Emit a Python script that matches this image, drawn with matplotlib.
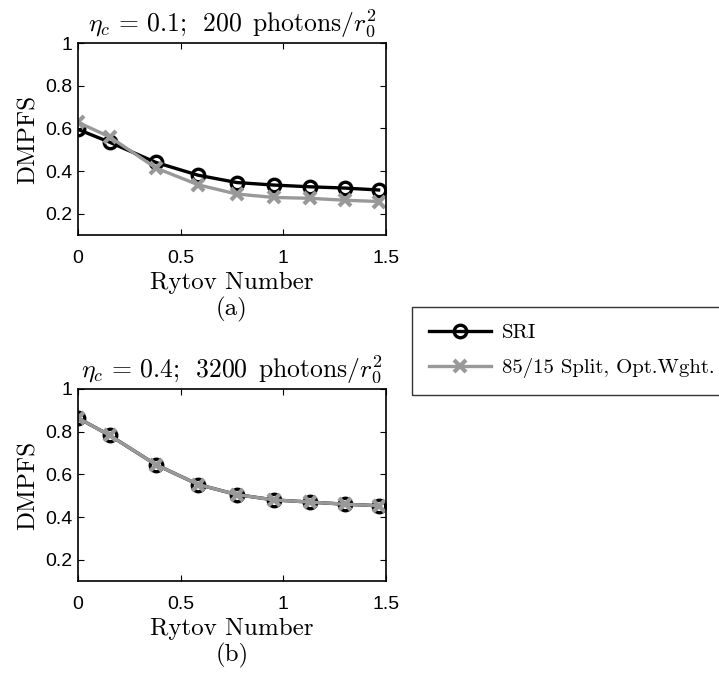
import matplotlib
matplotlib.use("Agg")
import matplotlib.pyplot as plt

plt.rcParams['mathtext.fontset'] = 'cm'
plt.rcParams['font.family'] = ['Liberation Sans', 'DejaVu Sans']

rytov = [0, 0.154, 0.380, 0.586, 0.773, 0.955, 1.129, 1.299, 1.464]

sri_a = [0.595, 0.535, 0.440, 0.380, 0.346, 0.334, 0.326, 0.320, 0.311]
split_a = [0.628, 0.560, 0.414, 0.335, 0.292, 0.276, 0.272, 0.263, 0.257]

sri_b = [0.864, 0.783, 0.645, 0.552, 0.505, 0.480, 0.470, 0.460, 0.453]
split_b = [0.864, 0.783, 0.645, 0.552, 0.505, 0.480, 0.470, 0.460, 0.453]

titles = [r'$\eta_c\, =\, 0.1;\ \,200\ \,\mathrm{photons}/r_0^2$',
          r'$\eta_c\, =\, 0.4;\ \,3200\ \,\mathrm{photons}/r_0^2$']
panel_tags = ['(a)', '(b)']

gray = '#999999'
cm = 'cmr10'
fig = plt.figure(figsize=(7.19, 6.77), dpi=100)

W, H = 719, 677
boxes = [(78, 43, 386, 235), (78, 389, 386, 581)]
series = [(sri_a, split_a), (sri_b, split_b)]

for (x0, y0, x1, y1), (s, p), t, tag in zip(boxes, series, titles, panel_tags):
    ax = fig.add_axes([x0 / W, 1 - y1 / H, (x1 - x0) / W, (y1 - y0) / H])
    l1, = ax.plot(rytov, s, color='k', lw=2.4, marker='o', ms=9,
                  mfc='none', mew=2.4, label='SRI')
    l2, = ax.plot(rytov, p, color=gray, lw=2.4, marker='x', ms=8.5,
                  mew=3, label='85/15 Split, Opt.Wght.')
    ax.set_xlim(0, 1.5)
    ax.set_ylim(0.1, 1.0)
    ax.set_xticks([0, 0.5, 1, 1.5])
    ax.set_xticklabels(['0', '0.5', '1', '1.5'])
    ax.set_yticks([0.2, 0.4, 0.6, 0.8, 1.0])
    ax.set_yticklabels(['0.2', '0.4', '0.6', '0.8', '1'])
    ax.tick_params(direction='in', top=True, right=True, labelsize=14,
                   length=4, width=0.8)
    ax.tick_params(axis='x', pad=10.5)
    ax.tick_params(axis='y', pad=4)
    for sp in ax.spines.values():
        sp.set_linewidth(1.2)
    ax.set_title(t, fontsize=18.5, pad=8)
    ax.set_ylabel('DMPFS', fontsize=18, family=cm, labelpad=4)
    ax.set_xlabel('Rytov Number\n' + tag, fontsize=18, family=cm,
                  labelpad=4, linespacing=1.15)

leg = fig.legend(handles=[l1, l2], loc='upper left',
                 bbox_to_anchor=(412 / W, 1 - 307 / H, (740 - 412) / W, 0),
                 mode='expand', prop={'family': cm, 'size': 15},
                 frameon=True, fancybox=False, edgecolor='k',
                 handlelength=3.0, handletextpad=0.5, borderpad=0.8,
                 labelspacing=0.75, borderaxespad=0)
leg.get_frame().set_linewidth(1.0)

fig.savefig('out.png', dpi=100)
